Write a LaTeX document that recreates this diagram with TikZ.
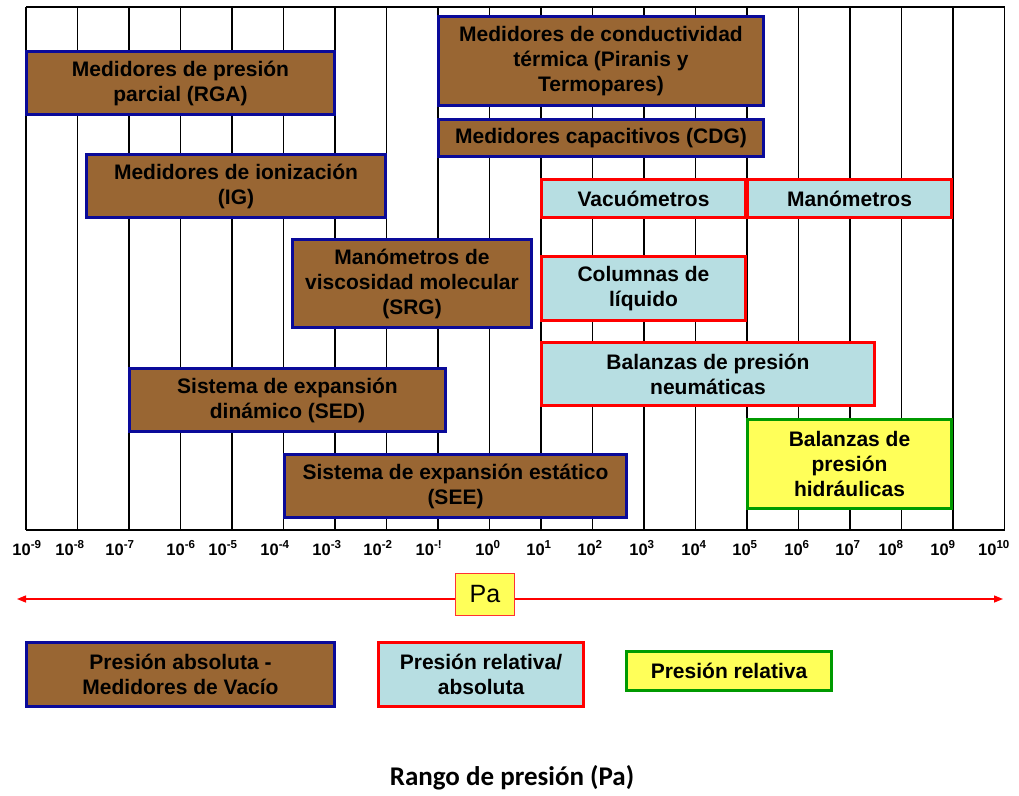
\documentclass[tikz,border=0pt]{standalone}
\usepackage{fontspec}
\setmainfont{Liberation Sans}
\newfontfamily\titlefont{Carlito}
\usetikzlibrary{arrows.meta}

\definecolor{gaugebrown}{HTML}{996633}
\definecolor{navyline}{HTML}{0A0A99}
\definecolor{redline}{HTML}{FF0000}
\definecolor{lightaqua}{HTML}{B7DEE2}
\definecolor{paleyellow}{HTML}{FFFF59}
\definecolor{greenline}{HTML}{009A00}
\definecolor{pabox}{HTML}{FF3333}

\begin{document}
\begin{tikzpicture}[x=1pt,y=-1pt,
  gauge/.style={draw, line width=3pt, align=center, inner sep=0pt, text=black,
    font=\fontsize{21}{25}\selectfont\bfseries},
  vacbox/.style={gauge, draw=navyline, fill=gaugebrown},
  relbox/.style={gauge, draw=redline, fill=lightaqua},
  hydbox/.style={gauge, draw=greenline, fill=paleyellow},
  gridline/.style={line width=1.6pt, black},
  ticklabel/.style={inner sep=0pt, font=\fontsize{16.5}{18}\selectfont\bfseries},
  rangearrow/.style={draw=redline, line width=1.4pt,
    {Triangle[length=9pt,width=7pt]}-{Triangle[length=9pt,width=7pt]}},
]
\useasboundingbox (0,0) rectangle (1019,795);

% decade grid from 10^-9 to 10^10 Pa
\foreach \i in {0,...,19}
  \draw[gridline] ({26+51.5*\i},7) -- ({26+51.5*\i},530);
\draw[gridline] (26,7) -- (1004.5,7);
\draw[gridline] (26,530) -- (1004.5,530);

% vacuum gauges (absolute pressure)
\node[vacbox, minimum width=308pt, minimum height=63pt] (rga) at (180.5,83)
  {Medidores de presión\\parcial (RGA)};
\node[vacbox, minimum width=299pt, minimum height=63pt] (ig) at (236,186)
  {Medidores de ionización\\(IG)};
\node[vacbox, minimum width=325pt, minimum height=89pt] (tc) at (601,61)
  {Medidores de conductividad\\térmica (Piranis y\\Termopares)};
\node[vacbox, minimum width=325pt, minimum height=37pt] (cdg) at (601,138)
  {Medidores capacitivos (CDG)};
\node[vacbox, minimum width=239pt, minimum height=88pt] (srg) at (412,283.5)
  {Manómetros de\\viscosidad molecular\\(SRG)};
\node[vacbox, minimum width=316pt, minimum height=63pt] (sed) at (287.5,400)
  {Sistema de expansión\\dinámico (SED)};
\node[vacbox, minimum width=342pt, minimum height=63pt] (see) at (455.5,486)
  {Sistema de expansión estático\\(SEE)};

% relative / absolute pressure instruments
\node[relbox, minimum width=204pt, minimum height=38pt] (vac) at (643.5,198.5)
  {Vacuómetros};
\node[relbox, minimum width=204pt, minimum height=38pt] (man) at (849.5,198.5)
  {Manómetros};
\node[relbox, minimum width=204pt, minimum height=64pt] (col) at (643.5,288.5)
  {Columnas de\\líquido};
\node[relbox, minimum width=333pt, minimum height=63pt] (neu) at (708,374)
  {Balanzas de presión\\neumáticas};

% relative pressure instruments
\node[hydbox, minimum width=204pt, minimum height=89pt] (hid) at (849.5,464)
  {Balanzas de\\presión\\hidráulicas};

% decade labels
\foreach \x/\e [count=\k] in {27/-9, 70/-8, 120/-7, 181/-6, 223/-5, 275/-4,
    327/-3, 378/-2, 429/-!, 488/0, 539/1, 590/2, 642/3, 694/4, 745/5,
    797/6, 848/7, 891/8, 943/9, 994/10}
  \node[ticklabel] (tick\k) at (\x,548) {10\textsuperscript{\e}};

% pressure axis arrow with unit
\coordinate (arrL) at (17,599);
\coordinate (arrR) at (1003,599);
\draw[rangearrow] (arrL) -- (arrR);
\node[draw=pabox, fill=paleyellow, line width=1.2pt, minimum width=59pt,
  minimum height=42pt, inner sep=0pt, font=\fontsize{25}{28}\selectfont] (pa)
  at (485,594.5) {Pa};

% legend
\node[vacbox, minimum width=308pt, minimum height=64pt] (legabs) at (180.5,674.5)
  {Presión absoluta -\\Medidores de Vacío};
\node[relbox, minimum width=205pt, minimum height=64pt] (legrelabs) at (481,674.5)
  {Presión relativa/\\absoluta};
\node[hydbox, minimum width=205pt, minimum height=39pt] (legrel) at (729,671)
  {Presión relativa};

% axis title
\node[inner sep=0pt, font=\titlefont\fontsize{27}{30}\selectfont\bfseries] (title)
  at (512,778) {Rango de presión (Pa)};
\end{tikzpicture}
\end{document}
